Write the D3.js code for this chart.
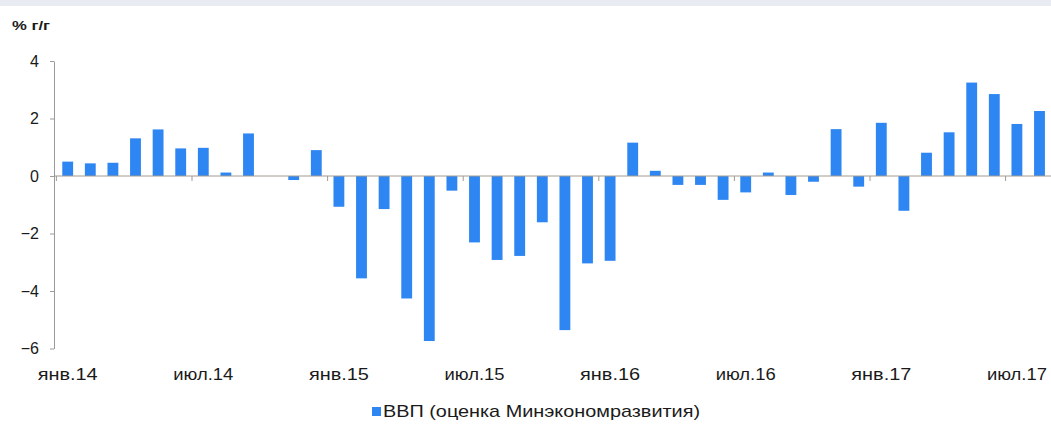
<!DOCTYPE html>
<html>
<head>
<meta charset="utf-8">
<script src="https://cdn.jsdelivr.net/npm/d3@7"></script>
<style>
  body { margin: 0; background: #fff; }
  svg { display: block; font-family: "Liberation Sans", Arial, sans-serif; }
</style>
</head>
<body>
<div id="chart"></div>
<script>
// monthly categories, Jan 2014 .. Aug 2017
var months = [
    "2014-01", "2014-02", "2014-03", "2014-04", "2014-05", "2014-06",
    "2014-07", "2014-08", "2014-09", "2014-10", "2014-11", "2014-12",
    "2015-01", "2015-02", "2015-03", "2015-04", "2015-05", "2015-06",
    "2015-07", "2015-08", "2015-09", "2015-10", "2015-11", "2015-12",
    "2016-01", "2016-02", "2016-03", "2016-04", "2016-05", "2016-06",
    "2016-07", "2016-08", "2016-09", "2016-10", "2016-11", "2016-12",
    "2017-01", "2017-02", "2017-03", "2017-04", "2017-05", "2017-06",
    "2017-07", "2017-08"
];

// ВВП, % г/г (оценка Минэкономразвития)
var gdp = [
    0.50, 0.44, 0.46, 1.31, 1.62, 0.96, 0.98, 0.12, 1.48, 0.00, -0.14, 0.90,
    -1.07, -3.56, -1.15, -4.26, -5.74, -0.51, -2.31, -2.92, -2.78, -1.61, -5.36, -3.04,
    -2.95, 1.16, 0.18, -0.31, -0.31, -0.83, -0.57, 0.12, -0.66, -0.20, 1.63, -0.37,
    1.85, -1.21, 0.81, 1.52, 3.25, 2.85, 1.81, 2.26
];

var labelMonths = ["2014-01", "2014-07", "2015-01", "2015-07", "2016-01", "2016-07", "2017-01", "2017-07"];
var labelTexts = ["янв.14", "июл.14", "янв.15", "июл.15", "янв.16", "июл.16", "янв.17", "июл.17"];
var yTicks = [-6, -4, -2, 0, 2, 4];

var width = 1051, height = 432;

var svg = d3.select("#chart").append("svg")
    .attr("width", width)
    .attr("height", height);

// light band at the very top
svg.append("rect")
    .attr("x", 0).attr("y", 0)
    .attr("width", width).attr("height", 6)
    .attr("fill", "#e8ecf2");

var x = d3.scaleBand()
    .domain(months)
    .range([56.4, 1050.8])
    .paddingInner(0.52)
    .paddingOuter(0.26);

var y = d3.scaleLinear()
    .domain([-6, 4])
    .range([348.5, 61]);

// y axis
var yAxis = svg.append("g")
    .attr("transform", "translate(54,0)")
    .call(d3.axisLeft(y).tickValues(yTicks).tickSize(4).tickSizeOuter(0).tickFormat(d3.format("d")));
yAxis.select(".domain").attr("stroke", "#9a9a9a");
yAxis.selectAll(".tick line").attr("stroke", "#9a9a9a");
yAxis.selectAll(".tick text")
    .attr("x", -15)
    .attr("fill", "#1a1a1a")
    .style("font-size", "16px");

// bars
svg.selectAll("rect.bar")
    .data(gdp)
    .enter()
    .append("rect")
    .attr("class", "bar")
    .attr("x", function (d, i) { return x(months[i]); })
    .attr("width", x.bandwidth())
    .attr("y", function (d) { return y(Math.max(0, d)); })
    .attr("height", function (d) { return Math.abs(y(d) - y(0)); })
    .attr("fill", "#2e86f2");

// zero line with half-year ticks at category boundaries
var halfStep = x.step() * x.paddingInner() / 2;
svg.append("line")
    .attr("x1", 54).attr("x2", width)
    .attr("y1", y(0)).attr("y2", y(0))
    .attr("stroke", "#a39a90")
    .attr("stroke-width", 1);

svg.selectAll("line.xtick")
    .data(labelMonths)
    .enter()
    .append("line")
    .attr("class", "xtick")
    .attr("x1", function (d) { return x(d) - halfStep; })
    .attr("x2", function (d) { return x(d) - halfStep; })
    .attr("y1", y(0))
    .attr("y2", y(0) + 5)
    .attr("stroke", "#a39a90");

// x labels below the plot (the reference text is a bit stretched)
svg.selectAll("text.xlabel")
    .data(labelMonths)
    .enter()
    .append("text")
    .attr("class", "xlabel")
    .attr("x", function (d) { return x(d) + x.bandwidth() / 2; })
    .attr("y", 380)
    .attr("text-anchor", "middle")
    .attr("fill", "#1a1a1a")
    .attr("textLength", 60)
    .attr("lengthAdjust", "spacingAndGlyphs")
    .style("font-size", "16px")
    .text(function (d, i) { return labelTexts[i]; });

// unit label
svg.append("text")
    .attr("x", 12)
    .attr("y", 30)
    .attr("fill", "#1a1a1a")
    .attr("textLength", 38)
    .attr("lengthAdjust", "spacingAndGlyphs")
    .style("font-size", "13px")
    .style("font-weight", "bold")
    .text("% г/г");

// legend
var legend = svg.append("g")
    .attr("transform", "translate(372, 407)");

legend.append("rect")
    .attr("width", 9)
    .attr("height", 9)
    .attr("fill", "#2e86f2");

legend.append("text")
    .attr("x", 11)
    .attr("y", 10)
    .attr("fill", "#1a1a1a")
    .attr("textLength", 317)
    .attr("lengthAdjust", "spacingAndGlyphs")
    .style("font-size", "17px")
    .text("ВВП (оценка Минэкономразвития)");
</script>
</body>
</html>
